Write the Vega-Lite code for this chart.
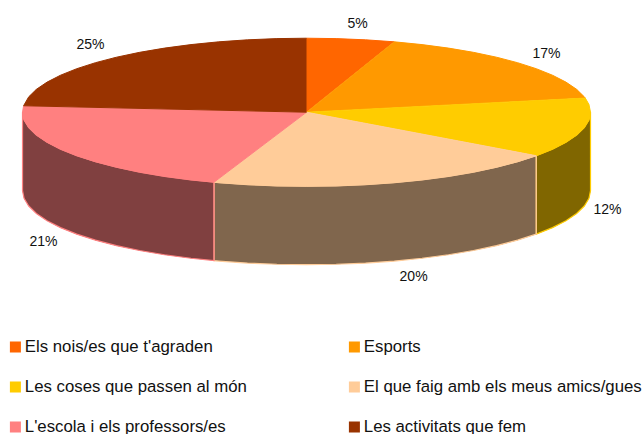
{"$schema":"https://vega.github.io/schema/vega-lite/v6.json","width":642,"height":434,"padding":0,"autosize":{"type":"none"},"background":"white","view":{"stroke":null},
"datasets":{
"slices":[{"slice":"Els nois/es que t'agraden","share":0.05,"lx":0.18,"ly":1.196},{"slice":"Esports","share":0.17,"lx":0.845,"ly":0.791},{"slice":"Les coses que passen al món","share":0.12,"lx":1.06,"ly":-1.318},{"slice":"El que faig amb els meus amics/gues","share":0.2,"lx":0.377,"ly":-2.223},{"slice":"L'escola i els professors/es","share":0.21,"lx":-0.926,"ly":-1.75},{"slice":"Les activitats que fem","share":0.25,"lx":-0.761,"ly":0.912}],
"walls":[
{"slice":"Les coses que passen al món","x":1,"y":0,"y2":-1.06},{"slice":"Les coses que passen al món","x":0.9945,"y":-0.1045,"y2":-1.1645},{"slice":"Les coses que passen al món","x":0.9781,"y":-0.2079,"y2":-1.2679},{"slice":"Les coses que passen al món","x":0.9511,"y":-0.309,"y2":-1.369},{"slice":"Les coses que passen al món","x":0.9135,"y":-0.4067,"y2":-1.4667},{"slice":"Les coses que passen al món","x":0.866,"y":-0.5,"y2":-1.56},{"slice":"Les coses que passen al món","x":0.809,"y":-0.5878,"y2":-1.6478},
{"slice":"El que faig amb els meus amics/gues","x":0.809,"y":-0.5878,"y2":-1.6478},{"slice":"El que faig amb els meus amics/gues","x":0.7431,"y":-0.6691,"y2":-1.7291},{"slice":"El que faig amb els meus amics/gues","x":0.6691,"y":-0.7431,"y2":-1.8031},{"slice":"El que faig amb els meus amics/gues","x":0.5878,"y":-0.809,"y2":-1.869},{"slice":"El que faig amb els meus amics/gues","x":0.5,"y":-0.866,"y2":-1.926},{"slice":"El que faig amb els meus amics/gues","x":0.4067,"y":-0.9135,"y2":-1.9735},{"slice":"El que faig amb els meus amics/gues","x":0.309,"y":-0.9511,"y2":-2.0111},{"slice":"El que faig amb els meus amics/gues","x":0.2079,"y":-0.9781,"y2":-2.0381},{"slice":"El que faig amb els meus amics/gues","x":0.1045,"y":-0.9945,"y2":-2.0545},{"slice":"El que faig amb els meus amics/gues","x":0,"y":-1,"y2":-2.06},{"slice":"El que faig amb els meus amics/gues","x":-0.1045,"y":-0.9945,"y2":-2.0545},{"slice":"El que faig amb els meus amics/gues","x":-0.2079,"y":-0.9781,"y2":-2.0381},{"slice":"El que faig amb els meus amics/gues","x":-0.309,"y":-0.9511,"y2":-2.0111},{"slice":"El que faig amb els meus amics/gues","x":-0.3256,"y":-0.9455,"y2":-2.0055},
{"slice":"L'escola i els professors/es","x":-0.3256,"y":-0.9455,"y2":-2.0055},{"slice":"L'escola i els professors/es","x":-0.4067,"y":-0.9135,"y2":-1.9735},{"slice":"L'escola i els professors/es","x":-0.5,"y":-0.866,"y2":-1.926},{"slice":"L'escola i els professors/es","x":-0.5878,"y":-0.809,"y2":-1.869},{"slice":"L'escola i els professors/es","x":-0.6691,"y":-0.7431,"y2":-1.8031},{"slice":"L'escola i els professors/es","x":-0.7431,"y":-0.6691,"y2":-1.7291},{"slice":"L'escola i els professors/es","x":-0.809,"y":-0.5878,"y2":-1.6478},{"slice":"L'escola i els professors/es","x":-0.866,"y":-0.5,"y2":-1.56},{"slice":"L'escola i els professors/es","x":-0.9135,"y":-0.4067,"y2":-1.4667},{"slice":"L'escola i els professors/es","x":-0.9511,"y":-0.309,"y2":-1.369},{"slice":"L'escola i els professors/es","x":-0.9781,"y":-0.2079,"y2":-1.2679},{"slice":"L'escola i els professors/es","x":-0.9945,"y":-0.1045,"y2":-1.1645},{"slice":"L'escola i els professors/es","x":-1,"y":0,"y2":-1.06}],
"top":[
{"slice":"Els nois/es que t'agraden","n":0,"x":0,"y":0},{"slice":"Els nois/es que t'agraden","n":1,"x":0,"y":1},{"slice":"Els nois/es que t'agraden","n":2,"x":0.1045,"y":0.9945},{"slice":"Els nois/es que t'agraden","n":3,"x":0.2079,"y":0.9781},{"slice":"Els nois/es que t'agraden","n":4,"x":0.309,"y":0.9511},
{"slice":"Esports","n":0,"x":0,"y":0},{"slice":"Esports","n":1,"x":0.309,"y":0.9511},{"slice":"Esports","n":2,"x":0.4067,"y":0.9135},{"slice":"Esports","n":3,"x":0.5,"y":0.866},{"slice":"Esports","n":4,"x":0.5878,"y":0.809},{"slice":"Esports","n":5,"x":0.6691,"y":0.7431},{"slice":"Esports","n":6,"x":0.7431,"y":0.6691},{"slice":"Esports","n":7,"x":0.809,"y":0.5878},{"slice":"Esports","n":8,"x":0.866,"y":0.5},{"slice":"Esports","n":9,"x":0.9135,"y":0.4067},{"slice":"Esports","n":10,"x":0.9511,"y":0.309},{"slice":"Esports","n":11,"x":0.9781,"y":0.2079},{"slice":"Esports","n":12,"x":0.9816,"y":0.1908},
{"slice":"Les coses que passen al món","n":0,"x":0,"y":0},{"slice":"Les coses que passen al món","n":1,"x":0.9816,"y":0.1908},{"slice":"Les coses que passen al món","n":2,"x":0.9945,"y":0.1045},{"slice":"Les coses que passen al món","n":3,"x":1,"y":0},{"slice":"Les coses que passen al món","n":4,"x":0.9945,"y":-0.1045},{"slice":"Les coses que passen al món","n":5,"x":0.9781,"y":-0.2079},{"slice":"Les coses que passen al món","n":6,"x":0.9511,"y":-0.309},{"slice":"Les coses que passen al món","n":7,"x":0.9135,"y":-0.4067},{"slice":"Les coses que passen al món","n":8,"x":0.866,"y":-0.5},{"slice":"Les coses que passen al món","n":9,"x":0.809,"y":-0.5878},
{"slice":"El que faig amb els meus amics/gues","n":0,"x":0,"y":0},{"slice":"El que faig amb els meus amics/gues","n":1,"x":0.809,"y":-0.5878},{"slice":"El que faig amb els meus amics/gues","n":2,"x":0.7431,"y":-0.6691},{"slice":"El que faig amb els meus amics/gues","n":3,"x":0.6691,"y":-0.7431},{"slice":"El que faig amb els meus amics/gues","n":4,"x":0.5878,"y":-0.809},{"slice":"El que faig amb els meus amics/gues","n":5,"x":0.5,"y":-0.866},{"slice":"El que faig amb els meus amics/gues","n":6,"x":0.4067,"y":-0.9135},{"slice":"El que faig amb els meus amics/gues","n":7,"x":0.309,"y":-0.9511},{"slice":"El que faig amb els meus amics/gues","n":8,"x":0.2079,"y":-0.9781},{"slice":"El que faig amb els meus amics/gues","n":9,"x":0.1045,"y":-0.9945},{"slice":"El que faig amb els meus amics/gues","n":10,"x":0,"y":-1},{"slice":"El que faig amb els meus amics/gues","n":11,"x":-0.1045,"y":-0.9945},{"slice":"El que faig amb els meus amics/gues","n":12,"x":-0.2079,"y":-0.9781},{"slice":"El que faig amb els meus amics/gues","n":13,"x":-0.309,"y":-0.9511},{"slice":"El que faig amb els meus amics/gues","n":14,"x":-0.3256,"y":-0.9455},
{"slice":"L'escola i els professors/es","n":0,"x":0,"y":0},{"slice":"L'escola i els professors/es","n":1,"x":-0.3256,"y":-0.9455},{"slice":"L'escola i els professors/es","n":2,"x":-0.4067,"y":-0.9135},{"slice":"L'escola i els professors/es","n":3,"x":-0.5,"y":-0.866},{"slice":"L'escola i els professors/es","n":4,"x":-0.5878,"y":-0.809},{"slice":"L'escola i els professors/es","n":5,"x":-0.6691,"y":-0.7431},{"slice":"L'escola i els professors/es","n":6,"x":-0.7431,"y":-0.6691},{"slice":"L'escola i els professors/es","n":7,"x":-0.809,"y":-0.5878},{"slice":"L'escola i els professors/es","n":8,"x":-0.866,"y":-0.5},{"slice":"L'escola i els professors/es","n":9,"x":-0.9135,"y":-0.4067},{"slice":"L'escola i els professors/es","n":10,"x":-0.9511,"y":-0.309},{"slice":"L'escola i els professors/es","n":11,"x":-0.9781,"y":-0.2079},{"slice":"L'escola i els professors/es","n":12,"x":-0.9945,"y":-0.1045},{"slice":"L'escola i els professors/es","n":13,"x":-1,"y":0},{"slice":"L'escola i els professors/es","n":14,"x":-0.9962,"y":0.0872},
{"slice":"Les activitats que fem","n":0,"x":0,"y":0},{"slice":"Les activitats que fem","n":1,"x":-0.9962,"y":0.0872},{"slice":"Les activitats que fem","n":2,"x":-0.9781,"y":0.2079},{"slice":"Les activitats que fem","n":3,"x":-0.9511,"y":0.309},{"slice":"Les activitats que fem","n":4,"x":-0.9135,"y":0.4067},{"slice":"Les activitats que fem","n":5,"x":-0.866,"y":0.5},{"slice":"Les activitats que fem","n":6,"x":-0.809,"y":0.5878},{"slice":"Les activitats que fem","n":7,"x":-0.7431,"y":0.6691},{"slice":"Les activitats que fem","n":8,"x":-0.6691,"y":0.7431},{"slice":"Les activitats que fem","n":9,"x":-0.5878,"y":0.809},{"slice":"Les activitats que fem","n":10,"x":-0.5,"y":0.866},{"slice":"Les activitats que fem","n":11,"x":-0.4067,"y":0.9135},{"slice":"Les activitats que fem","n":12,"x":-0.309,"y":0.9511},{"slice":"Les activitats que fem","n":13,"x":-0.2079,"y":0.9781},{"slice":"Les activitats que fem","n":14,"x":-0.1045,"y":0.9945},{"slice":"Les activitats que fem","n":15,"x":0,"y":1}]
},
"encoding":{
"x":{"field":"x","type":"quantitative","scale":{"domain":[-1.0793,1.1813],"nice":false,"zero":false},"axis":null},
"y":{"field":"y","type":"quantitative","scale":{"domain":[-4.3485,1.5163],"nice":false,"zero":false},"axis":null}},
"layer":[
{"data":{"name":"walls"},"mark":{"type":"area","fill":"black","interpolate":"linear"},"encoding":{"detail":{"field":"slice"},"y2":{"field":"y2"}}},
{"data":{"name":"walls"},"mark":{"type":"area","fillOpacity":0.5,"strokeWidth":1.2},"encoding":{"y2":{"field":"y2"},
"fill":{"field":"slice","type":"nominal"},
"stroke":{"field":"slice","type":"nominal","legend":null}}},
{"data":{"name":"top"},"mark":{"type":"line","strokeWidth":1},"encoding":{
"order":{"field":"n","type":"quantitative"},
"fill":{"field":"slice","type":"nominal","scale":{"domain":["Els nois/es que t'agraden","Esports","Les coses que passen al món","El que faig amb els meus amics/gues","L'escola i els professors/es","Les activitats que fem"],"range":["#ff6600","#ff9900","#ffcc00","#ffcc99","#ff8080","#993300"]},
"legend":{"title":null,"orient":"none","direction":"horizontal","legendX":7,"legendY":339,"columns":2,"symbolType":"square","symbolSize":121,"symbolStrokeWidth":0,"symbolOpacity":1,"labelFont":"Liberation Sans","labelFontSize":16.8,"labelColor":"#111111","labelLimit":400,"labelOffset":1,"rowPadding":23,"columnPadding":99,"clipHeight":16}},
"stroke":{"field":"slice","type":"nominal","scale":{"domain":["Els nois/es que t'agraden","Esports","Les coses que passen al món","El que faig amb els meus amics/gues","L'escola i els professors/es","Les activitats que fem"],"range":["#ff6600","#ff9900","#ffcc00","#ffcc99","#ff8080","#993300"]},"legend":null}}},
{"data":{"name":"slices"},"mark":{"type":"text","font":"Liberation Sans","fontSize":14,"color":"#111111"},"encoding":{
"x":{"field":"lx","type":"quantitative"},"y":{"field":"ly","type":"quantitative"},
"text":{"field":"share","type":"quantitative","format":".0%"}}}
]}
